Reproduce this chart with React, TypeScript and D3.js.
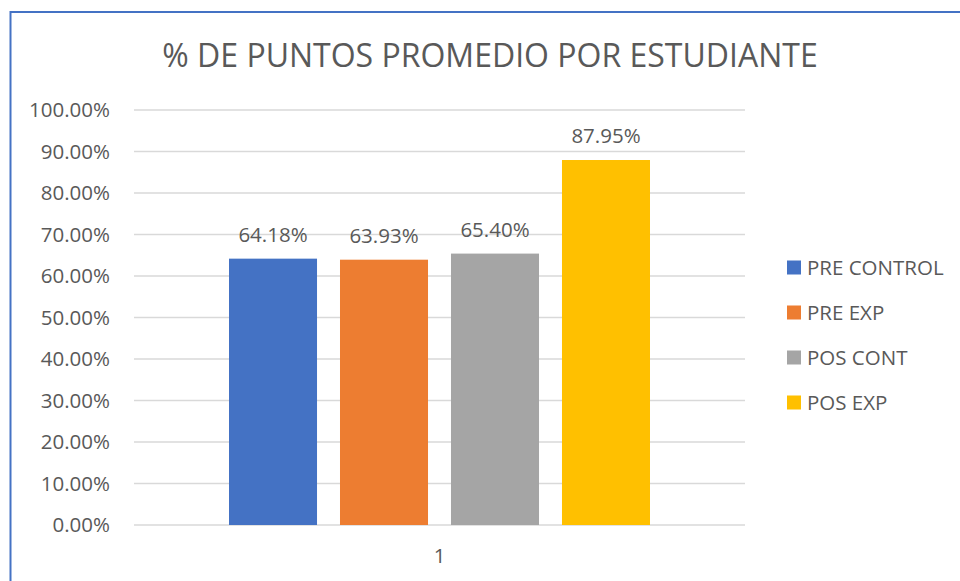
import React, { useRef, useEffect } from 'react'
import * as d3 from 'd3'

const categories = ['1']
const seriesNames = ['PRE CONTROL', 'PRE EXP', 'POS CONT', 'POS EXP']
const seriesValues = [0.6418, 0.6393, 0.654, 0.8795]
const seriesColors = ['#4472C4', '#ED7D31', '#A5A5A5', '#FFC000']
const yTicks = [0, 0.1, 0.2, 0.3, 0.4, 0.5, 0.6, 0.7, 0.8, 0.9, 1.0]

const App = () => {
  const svgRef = useRef<SVGSVGElement>(null)

  useEffect(() => {
    const svg = d3.select(svgRef.current)
    svg.selectAll('*').remove()
    const font = '"Open Sans", sans-serif'
    const textColor = '#595959'
    const fs = 20.5

    const plot = { left: 134, right: 745, top: 110, bottom: 525 }

    // chart border
    svg.append('rect')
      .attr('x', 10.5).attr('y', 12)
      .attr('width', 1000).attr('height', 1000)
      .attr('fill', '#fff')
      .attr('stroke', '#4472C4').attr('stroke-width', 2)

    svg.append('text')
      .attr('x', 490).attr('y', 67)
      .attr('text-anchor', 'middle')
      .attr('font-family', font).attr('font-size', 32)
      .attr('fill', textColor)
      .text('% DE PUNTOS PROMEDIO POR ESTUDIANTE')

    const x = d3.scaleBand()
      .domain(categories)
      .range([plot.left, plot.right])

    const x1 = d3.scaleBand()
      .domain(seriesNames)
      .range([x('1')! + 95, x('1')! + x.bandwidth() - 95])
      .paddingInner(0.207)

    const y = d3.scaleLinear()
      .domain([0, 1])
      .range([plot.bottom, plot.top])

    // gridlines
    svg.append('g')
      .selectAll('line')
      .data(yTicks)
      .enter().append('line')
      .attr('x1', plot.left).attr('x2', plot.right)
      .attr('y1', d => y(d)).attr('y2', d => y(d))
      .attr('stroke', '#d9d9d9').attr('stroke-width', 1.3)

    // y labels
    svg.append('g')
      .selectAll('text')
      .data(yTicks)
      .enter().append('text')
      .attr('x', 110).attr('y', d => y(d) + 7)
      .attr('text-anchor', 'end')
      .attr('font-family', font).attr('font-size', fs)
      .attr('fill', textColor)
      .text(d => d3.format('.2%')(d))

    // bars
    svg.append('g')
      .selectAll('rect')
      .data(seriesNames)
      .enter().append('rect')
      .attr('x', d => x1(d)!)
      .attr('y', (d, i) => y(seriesValues[i]))
      .attr('width', x1.bandwidth())
      .attr('height', (d, i) => plot.bottom - y(seriesValues[i]))
      .attr('fill', (d, i) => seriesColors[i])

    // data labels
    svg.append('g')
      .selectAll('text')
      .data(seriesNames)
      .enter().append('text')
      .attr('x', d => x1(d)! + x1.bandwidth() / 2)
      .attr('y', (d, i) => y(seriesValues[i]) - 17)
      .attr('text-anchor', 'middle')
      .attr('font-family', font).attr('font-size', fs)
      .attr('fill', textColor)
      .text((d, i) => d3.format('.2%')(seriesValues[i]))

    // x labels
    svg.append('g')
      .selectAll('text')
      .data(categories)
      .enter().append('text')
      .attr('x', d => x(d)! + x.bandwidth() / 2)
      .attr('y', 563)
      .attr('text-anchor', 'middle')
      .attr('font-family', font).attr('font-size', fs)
      .attr('fill', textColor)
      .text(d => d)

    // legend
    const legend = svg.append('g')
      .selectAll('g')
      .data(seriesNames)
      .enter().append('g')
      .attr('transform', (d, i) => `translate(787,${260.5 + i * 45})`)
    legend.append('rect')
      .attr('width', 14).attr('height', 14)
      .attr('fill', (d, i) => seriesColors[i])
    legend.append('text')
      .attr('x', 20).attr('y', 14)
      .attr('font-family', font).attr('font-size', fs)
      .attr('fill', textColor)
      .text(d => d)
  }, [])

  return (
    <svg ref={svgRef} width={960} height={581}
      style={{ position: 'absolute', left: 0, top: 0, display: 'block' }}></svg>
  )
}

export default App
